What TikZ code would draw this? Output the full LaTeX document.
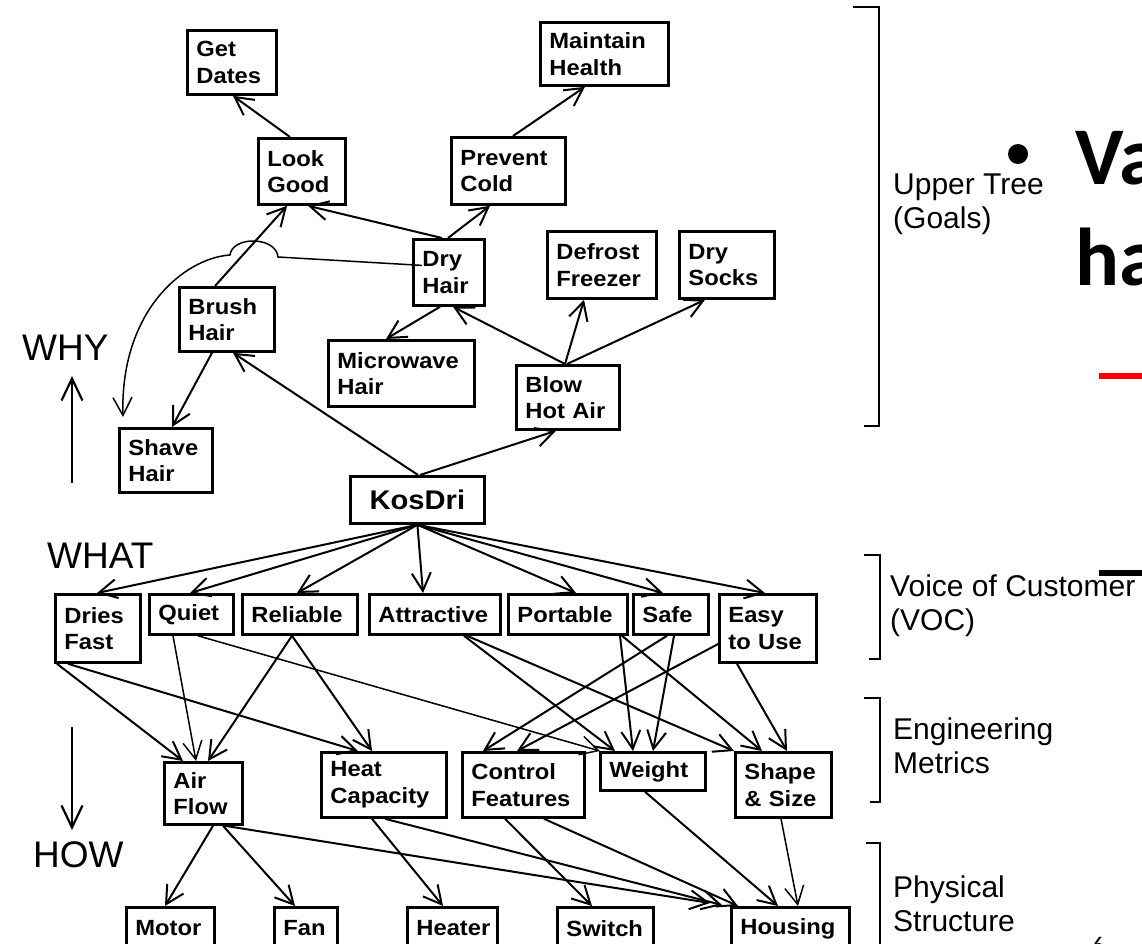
\documentclass[tikz,border=0pt]{standalone}
\usepackage{fontspec}
\setmainfont{Liberation Sans}
\newfontfamily\boxfont{Liberation Sans}[FakeStretch=1.08]
\newfontfamily\slidefont{Carlito}
\usetikzlibrary{arrows.meta,calc}

\begin{document}
\begin{tikzpicture}[x=1pt,y=-1pt,
  box/.style={draw, line width=2.8pt, anchor=north west, inner xsep=9pt, inner ysep=0pt,
    align=left, font=\boxfont\bfseries\fontsize{22}{26.5}\selectfont},
  link/.style={line width=2pt, -{Straight Barb[length=18pt,width=19pt]}},
  dirarrow/.style={line width=2.2pt, -{Straight Barb[length=22pt,width=21pt]}},
  side/.style={anchor=base west, inner sep=0pt, font=\fontsize{30}{34}\selectfont},
  dirlabel/.style={anchor=base west, inner sep=0pt, font=\fontsize{37}{40}\selectfont},
  brk/.style={line width=2.6pt}]

\useasboundingbox (0,0) rectangle (1142,944);
\clip (0,0) rectangle (1142,944);
\fill[white] (0,0) rectangle (1142,944);

% ---------- upper tree (goals) ----------
\node[box, minimum width=89pt,  minimum height=64pt, text width=71pt]  (getd)  at (186,29)  {Get\\Dates};
\node[box, minimum width=128pt, minimum height=63pt, text width=110pt] (maint) at (539,21)  {Maintain\\Health};
\node[box, minimum width=87pt,  minimum height=66pt, text width=69pt]  (look)  at (257,137) {Look\\Good};
\node[box, minimum width=114pt, minimum height=67pt, text width=96pt]  (prev)  at (450,136) {Prevent\\Cold};
\node[box, minimum width=71pt,  minimum height=66pt, text width=53pt]  (dryh)  at (412,238) {Dry\\Hair};
\node[box, minimum width=109pt, minimum height=67pt, text width=91pt]  (defr)  at (546,230) {Defrost\\Freezer};
\node[box, minimum width=95pt,  minimum height=67pt, text width=77pt]  (drys)  at (678,230) {Dry\\Socks};
\node[box, minimum width=95pt,  minimum height=64pt, text width=77pt]  (brush) at (178,286) {Brush\\Hair};
\node[box, minimum width=146pt, minimum height=66pt, text width=128pt] (micro) at (327,339) {Microwave\\Hair};
\node[box, minimum width=103pt, minimum height=64pt, text width=85pt]  (blow)  at (515,364) {Blow\\Hot Air};
\node[box, minimum width=93pt,  minimum height=64pt, text width=75pt]  (shave) at (118,427) {Shave\\Hair};
\node[box, minimum width=134pt, minimum height=47pt, align=center,
  font=\boxfont\bfseries\fontsize{27}{30}\selectfont] (kos) at (349,475) {KosDri};

% ---------- voice of customer ----------
\node[box, minimum width=85pt,  minimum height=68pt, text width=67pt]  (dries) at (54,593)  {Dries\\Fast};
\node[box, minimum width=84pt,  minimum height=40pt, text width=66pt]  (quiet) at (148,593) {Quiet};
\node[box, minimum width=115pt, minimum height=40pt, text width=97pt]  (rel)   at (241,593) {Reliable};
\node[box, minimum width=131pt, minimum height=40pt, text width=113pt] (attr)  at (368,593) {Attractive};
\node[box, minimum width=119pt, minimum height=40pt, text width=101pt] (port)  at (507,593) {Portable};
\node[box, minimum width=75pt,  minimum height=40pt, text width=57pt]  (safe)  at (632,593) {Safe};
\node[box, minimum width=97pt,  minimum height=68pt, text width=79pt]  (easy)  at (718,593) {Easy\\to Use};

% ---------- engineering metrics ----------
\node[box, minimum width=78pt,  minimum height=62pt, text width=60pt]  (air)    at (163,761) {Air\\Flow};
\node[box, minimum width=125pt, minimum height=65pt, text width=107pt] (heat)   at (320,751) {Heat\\Capacity};
\node[box, minimum width=122pt, minimum height=65pt, text width=104pt] (ctrl)   at (461,751) {Control\\Features};
\node[box, minimum width=105pt, minimum height=38pt, text width=87pt]  (weight) at (599,751) {Weight};
\node[box, minimum width=96pt,  minimum height=65pt, text width=78pt]  (shape)  at (734,751) {Shape\\\& Size};

% ---------- physical structure ----------
\node[box, minimum width=88pt,  minimum height=42pt, text width=70pt]  (motor)   at (125,906) {Motor};
\node[box, minimum width=63pt,  minimum height=42pt, text width=45pt]  (fan)     at (273,906) {Fan};
\node[box, minimum width=90pt,  minimum height=42pt, text width=72pt]  (heater)  at (406,906) {Heater};
\node[box, minimum width=96pt,  minimum height=42pt, text width=78pt]  (switch)  at (556,906) {Switch};
\node[box, minimum width=118pt, minimum height=42pt, text width=100pt] (housing) at (730,906) {Housing};

% ---------- links of the upper tree ----------
\draw[link] ($(look.north west)+(33,0)$) -- ($(getd.south west)+(47,0)$);
\draw[link] ($(brush.north west)+(37,0)$) -- ($(look.south west)+(30,0)$);
\draw[link] ($(dryh.north west)+(30,0)$) -- ($(look.south west)+(51,0)$);
\draw[link] ($(dryh.north west)+(36,0)$) -- ($(prev.south west)+(40,0)$);
\draw[link] ($(prev.north west)+(63,0)$) -- ($(maint.south west)+(46,0)$);
\draw[link, line width=1.5pt] ($(dryh.west)+(10,-7)$) -- (278,257)
  .. controls (276,236) and (232,236) .. (230,255)
  .. controls (185,258) and (120,310) .. ($(shave.north west)+(5,-10)$);
\draw[link] ($(brush.south west)+(34,0)$) -- ($(shave.north west)+(54,0)$);
\draw[link] ($(kos.north west)+(69,0)$) -- ($(brush.south west)+(55,0)$);
\draw[link] ($(kos.north west)+(71,0)$) -- ($(blow.south west)+(41,0)$);
\draw[link] ($(blow.north west)+(50,0)$) -- ($(dryh.south west)+(41,0)$);
\draw[link] ($(dryh.south west)+(28,0)$) -- ($(micro.north west)+(59,0)$);
\draw[link] ($(blow.north west)+(50,0)$) -- ($(defr.south west)+(38,0)$);
\draw[link] ($(blow.north west)+(52,0)$) -- ($(drys.south west)+(27,0)$);

% ---------- KosDri to customer needs ----------
\foreach \n/\d in {dries/43, quiet/42, rel/56, attr/55, port/69, safe/31, easy/47}
  \draw[link] (kos.south) -- ($(\n.north west)+(\d,0)$);

% ---------- customer needs to metrics ----------
\draw[link] ($(dries.south west)+(3,0)$)  -- ($(air.north west)+(20,0)$);
\draw[link] ($(dries.south west)+(14,0)$) -- ($(heat.north west)+(38,0)$);
\draw[link, line width=1.5pt] ($(quiet.south west)+(25,0)$) -- ($(air.north west)+(33,0)$);
\draw[link, line width=1.5pt] ($(quiet.south west)+(50,0)$) -- ($(weight.north west)+(1,0)$);
\draw[link] ($(rel.south west)+(51,0)$)   -- ($(air.north west)+(45,0)$);
\draw[link] ($(rel.south west)+(51,0)$)   -- ($(heat.north west)+(52,0)$);
\draw[link] ($(attr.south west)+(96,0)$)  -- ($(weight.north west)+(16,0)$);
\draw[link] ($(attr.south west)+(99,0)$)  -- ($(shape.north west)+(0,0)$);
\draw[link] ($(port.south west)+(113,0)$) -- ($(weight.north west)+(34,0)$);
\draw[link] ($(port.south west)+(115,0)$) -- ($(shape.north west)+(28,0)$);
\draw[link] ($(safe.south west)+(35,0)$)  -- ($(ctrl.north west)+(22,0)$);
\draw[link] ($(safe.south west)+(42,0)$)  -- ($(weight.north west)+(54,0)$);
\draw[link] ($(easy.north west)+(2,50)$)  -- ($(ctrl.north west)+(56,0)$);
\draw[link] ($(easy.south west)+(19,0)$)  -- ($(shape.north west)+(53,0)$);

% ---------- metrics to physical parts ----------
\draw[link] ($(air.south west)+(50,0)$)    -- ($(motor.north west)+(40,0)$);
\draw[link] ($(air.south west)+(60,0)$)    -- ($(fan.north west)+(22,0)$);
\draw[link] ($(air.south west)+(62,0)$)    -- ($(housing.north west)+(-20,-3)$);
\draw[link] ($(heat.south west)+(52,0)$)   -- ($(heater.north west)+(37,0)$);
\draw[link] ($(heat.south west)+(65,0)$)   -- ($(housing.north west)+(-8,-1)$);
\draw[link] ($(ctrl.south west)+(44,0)$)   -- ($(switch.north west)+(36,0)$);
\draw[link] ($(ctrl.south west)+(83,0)$)   -- ($(housing.north west)+(8,0)$);
\draw[link] ($(weight.south west)+(46,0)$) -- ($(housing.north west)+(48,0)$);
\draw[link, line width=1.5pt] ($(shape.south west)+(47,0)$) -- ($(housing.north west)+(68,0)$);

% ---------- WHY / WHAT / HOW ----------
\node[dirlabel] (why)  at (22,360) {WHY};
\node[dirlabel] (what) at (47,568) {WHAT};
\node[dirlabel] (how)  at (33,867) {HOW};
\coordinate (upfrom) at (72,483);
\coordinate (upto) at (72,376);
\coordinate (downfrom) at (72,727);
\coordinate (downto) at (72,830);
\draw[dirarrow] (upfrom) -- (upto);
\draw[dirarrow] (downfrom) -- (downto);

% ---------- level brackets ----------
\draw[brk] (853,7) -- (879,7) -- (879,426) -- (864,426);
\draw[brk] (864,555) -- (880,555) -- (880,659) -- (869,659);
\draw[brk] (864,698) -- (880,698) -- (880,802) -- (870,802);
\draw[brk] (866,843) -- (880,843) -- (880,950);

\node[side] (ut1) at (893,194) {Upper Tree};
\node[side] (ut2) at (893,228) {(Goals)};
\node[side] (vc1) at (890,596) {Voice of Customer};
\node[side] (vc2) at (890,630) {(VOC)};
\node[side] (em1) at (893,739) {Engineering};
\node[side] (em2) at (893,773) {Metrics};
\node[side] (ps1) at (893,897) {Physical};
\node[side] (ps2) at (893,931) {Structure};

% ---------- slide text on the right ----------
\fill (1018,154) circle[radius=10pt];
\node[anchor=base west, inner sep=0pt, font=\slidefont\bfseries\fontsize{82}{100}\selectfont] (va) at (1075,185) {Va};
\node[anchor=base west, inner sep=0pt, font=\slidefont\bfseries\fontsize{82}{100}\selectfont] (ha) at (1075,285) {ha};
\fill[red] (1099,373) rectangle (1142,379);
\fill[black] (1099,570) rectangle (1142,576);
\node[anchor=base west, inner sep=0pt, font=\slidefont\fontsize{24}{24}\selectfont] (pnum) at (1092,953) {6};

\end{tikzpicture}
\end{document}
